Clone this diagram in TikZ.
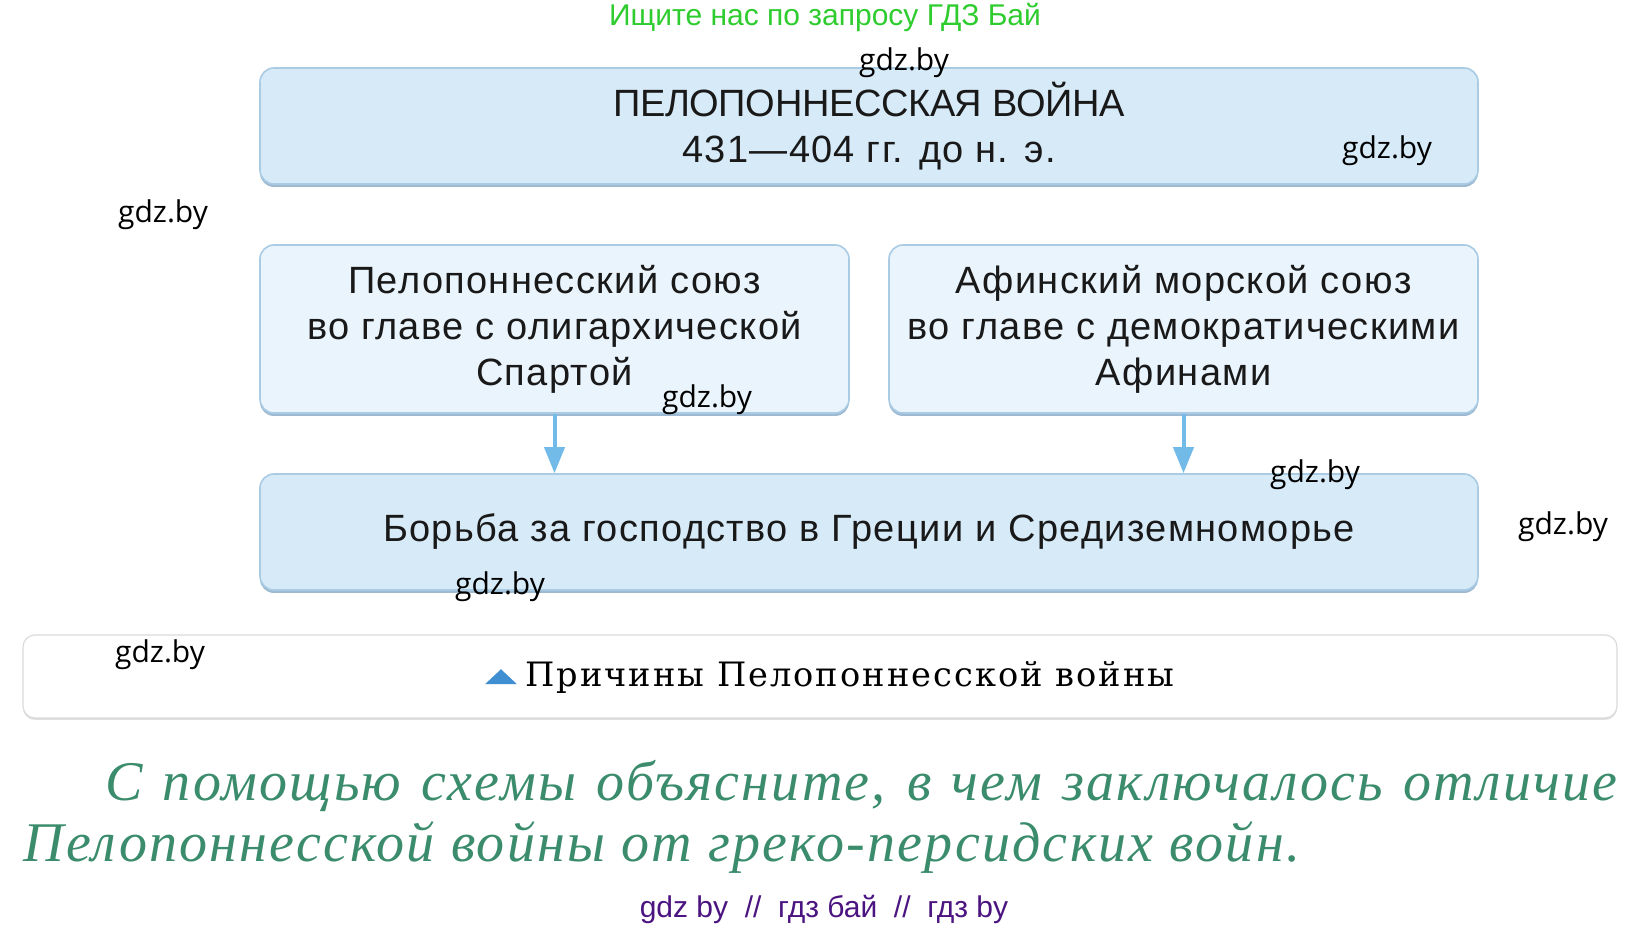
\documentclass[tikz,border=0pt]{standalone}
\usepackage{fontspec}
\usepackage{tikz}
\usetikzlibrary{arrows.meta, positioning, calc}
\setmainfont{Liberation Sans}
\newfontfamily\boxfont[LetterSpace=3.5]{Liberation Sans}
\newfontfamily\titlefont[LetterSpace=-1]{Liberation Sans}
\newfontfamily\markfont{Open Sans}
\newfontfamily\capfont[LetterSpace=6]{DejaVu Serif}
\newfontfamily\taskfont[LetterSpace=4]{Liberation Serif}
\definecolor{boxblue}{HTML}{D7EAF8}
\definecolor{boxpale}{HTML}{EAF4FC}
\definecolor{boxline}{HTML}{A9CBE3}
\definecolor{boxshade}{HTML}{9DBAD2}
\definecolor{arrowblue}{HTML}{72BAE8}
\definecolor{tribblue}{HTML}{3F8FD2}
\definecolor{taskgreen}{HTML}{3A8C6C}
\definecolor{headgreen}{HTML}{2ECC2E}
\definecolor{markpurple}{HTML}{4B1480}

\begin{document}
\begin{tikzpicture}[x=0.5pt, y=-0.5pt,
    panel/.style={draw=boxline,
      line width=0.8pt,
      rounded corners=7pt,
      align=center,
      text=black!90,
      font=\boxfont\fontsize{19}{23}\selectfont,
      preaction={fill=boxshade, transform canvas={yshift=-1.5pt}}},
    widebox/.style={panel, fill=boxblue,
      minimum width=609pt, minimum height=58pt},
    halfbox/.style={panel, fill=boxpale,
      minimum width=294.5pt, minimum height=84pt},
    flow/.style={draw=arrowblue, line width=2pt,
      -{Triangle[width=10pt, length=13pt]}},
    watermark/.style={font=\markfont\fontsize{15}{15}\selectfont,
      inner sep=0pt}]
  \useasboundingbox[fill=white] (0,0) rectangle (1649,929);

  \node [font=\fontsize{15}{15}\selectfont, text=headgreen] (search) at (825,17)
    {Ищите нас по запросу ГДЗ Бай};

  % war title
  \node [widebox] (war) at (869,126)
    {{\titlefont ПЕЛОПОННЕССКАЯ ВОЙНА}\\431—404 гг. до н. э.};

  % two alliances
  \node [halfbox] (sparta) at (554.5,329)
    {Пелопоннесский союз\\во главе с олигархической\\Спартой};
  \node [halfbox] (athens) at (1183.5,329)
    {Афинский морской союз\\во главе с демократическими\\Афинами};

  \node [widebox] (struggle) at (869,532)
    {Борьба за господство в Греции и Средиземноморье};

  \draw [flow] (sparta.south) -- (sparta.south |- struggle.north);
  \draw [flow] (athens.south) -- (athens.south |- struggle.north);

  % caption
  \node [draw=black!14, line width=0.6pt, rounded corners=6pt, fill=white,
    minimum width=797pt, minimum height=41.5pt,
    preaction={fill=black!12, transform canvas={yshift=-1pt}}] (caption) at (820,676.5) {};
  \node [anchor=mid west, inner sep=0pt,
    font=\capfont\fontsize{16.8}{16.8}\selectfont] (captext) at (525,681)
    {Причины Пелопоннесской войны};
  \coordinate (tri) at ($(captext.west)+(-12pt,0)$);
  \fill [tribblue] ($(tri)+(-8pt,-3.5pt)$) -- ($(tri)+(0,4pt)$)
    -- ($(tri)+(8pt,-3.5pt)$) -- cycle;

  % question
  \node [anchor=mid west, inner sep=0pt, text=taskgreen,
    font=\taskfont\itshape\fontsize{28}{28}\selectfont] (task1) at (105,795)
    {\makebox[756pt][s]{С помощью схемы объясните, в чем заключалось отличие}};
  \node [anchor=mid west, inner sep=0pt, text=taskgreen,
    font=\taskfont\itshape\fontsize{28}{28}\selectfont] (task2) at (23,856)
    {Пелопоннесской войны от греко-персидских войн.};

  \node [font=\fontsize{15}{15}\selectfont, text=markpurple] (footer) at (824,909)
    {gdz by \ // \ гдз бай \ // \ гдз by};

  % watermarks
  \node [watermark] (wm1) at (904,63) {gdz.by};
  \node [watermark] (wm2) at (1387,151) {gdz.by};
  \node [watermark] (wm3) at (163,215) {gdz.by};
  \node [watermark] (wm4) at (707,400) {gdz.by};
  \node [watermark] (wm5) at (1315,475) {gdz.by};
  \node [watermark] (wm6) at (1563,527) {gdz.by};
  \node [watermark] (wm7) at (500,587) {gdz.by};
  \node [watermark] (wm8) at (160,655) {gdz.by};
\end{tikzpicture}
\end{document}
